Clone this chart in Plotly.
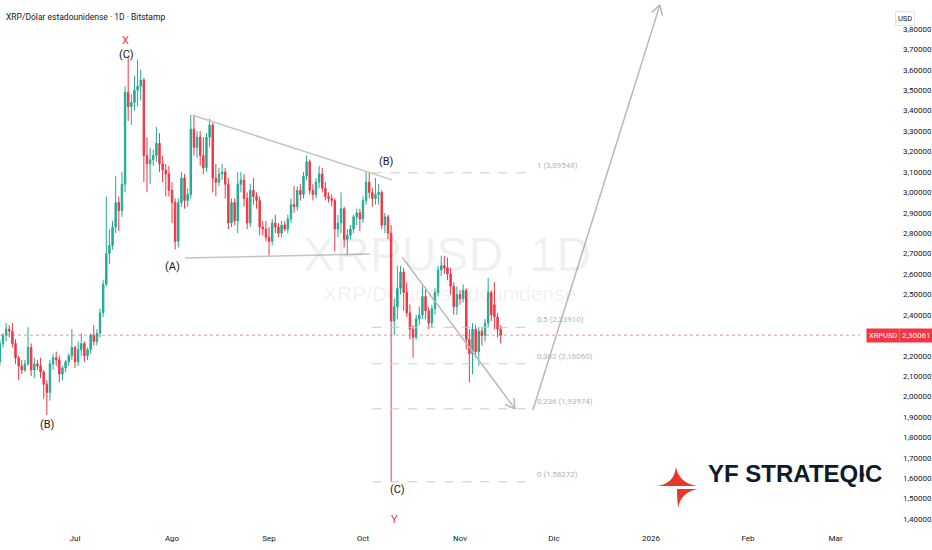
import math
import pandas as pd
import plotly.graph_objects as go

# Velas diarias XRP/USD (Bitstamp): (open, high, low, close)
jun = [
    (2.17, 2.28, 2.15, 2.26), (2.26, 2.31, 2.24, 2.30), (2.30, 2.36, 2.27, 2.33),
    (2.33, 2.35, 2.29, 2.32), (2.32, 2.36, 2.24, 2.26), (2.26, 2.28, 2.16, 2.19),
    (2.19, 2.20, 2.08, 2.15), (2.15, 2.18, 2.11, 2.13), (2.13, 2.18, 2.12, 2.16),
    (2.16, 2.34, 2.15, 2.24), (2.24, 2.26, 2.10, 2.13), (2.13, 2.19, 2.09, 2.16),
    (2.16, 2.18, 2.13, 2.15), (2.15, 2.19, 2.09, 2.12), (2.12, 2.13, 1.99, 2.06),
    (2.06, 2.08, 1.91, 2.02), (2.02, 2.18, 1.98, 2.16), (2.16, 2.21, 2.13, 2.19),
    (2.19, 2.22, 2.15, 2.18), (2.18, 2.20, 2.07, 2.11), (2.11, 2.15, 2.08, 2.14),
    (2.14, 2.18, 2.12, 2.17), (2.17, 2.21, 2.15, 2.20), (2.20, 2.33, 2.18, 2.24),
]
jul = [
    (2.24, 2.25, 2.14, 2.17), (2.17, 2.27, 2.15, 2.23), (2.23, 2.31, 2.20, 2.26),
    (2.26, 2.27, 2.17, 2.20), (2.20, 2.24, 2.18, 2.23), (2.23, 2.31, 2.21, 2.30),
    (2.30, 2.35, 2.25, 2.27), (2.27, 2.33, 2.25, 2.31), (2.31, 2.43, 2.29, 2.41),
    (2.41, 2.57, 2.39, 2.55), (2.55, 2.98, 2.54, 2.70), (2.70, 2.82, 2.65, 2.74),
    (2.74, 2.86, 2.72, 2.83), (2.83, 3.08, 2.80, 2.95), (2.95, 2.98, 2.81, 2.91),
    (2.91, 3.10, 2.88, 3.04), (3.04, 3.52, 3.00, 3.49), (3.49, 3.66, 3.35, 3.42),
    (3.42, 3.48, 3.33, 3.44), (3.44, 3.57, 3.40, 3.50), (3.50, 3.65, 3.42, 3.52),
    (3.52, 3.60, 3.45, 3.55), (3.55, 3.56, 3.05, 3.18), (3.18, 3.27, 3.00, 3.14),
    (3.14, 3.22, 3.04, 3.16), (3.16, 3.21, 3.13, 3.18), (3.18, 3.32, 3.15, 3.24),
    (3.24, 3.29, 3.10, 3.14), (3.14, 3.18, 3.05, 3.11), (3.11, 3.14, 2.98, 3.09),
    (3.09, 3.13, 2.98, 3.01),
]
aug = [
    (3.01, 3.05, 2.85, 2.95), (2.95, 2.97, 2.72, 2.76), (2.76, 2.97, 2.73, 2.95),
    (2.95, 3.10, 2.93, 3.07), (3.07, 3.09, 2.92, 2.96), (2.96, 3.02, 2.93, 2.99),
    (2.99, 3.38, 2.97, 3.31), (3.31, 3.38, 3.18, 3.22), (3.22, 3.30, 3.17, 3.27),
    (3.27, 3.30, 3.13, 3.18), (3.18, 3.27, 3.09, 3.12), (3.12, 3.29, 3.10, 3.27),
    (3.27, 3.36, 3.22, 3.33), (3.33, 3.34, 3.00, 3.07), (3.07, 3.14, 2.98, 3.05),
    (3.05, 3.12, 3.03, 3.09), (3.09, 3.14, 3.06, 3.10), (3.10, 3.12, 2.97, 3.04),
    (3.04, 3.07, 2.82, 2.85), (2.85, 2.97, 2.83, 2.95), (2.95, 2.97, 2.84, 2.86),
    (2.86, 3.10, 2.80, 3.04), (3.04, 3.10, 3.00, 3.06), (3.06, 3.09, 2.93, 2.97),
    (2.97, 3.00, 2.82, 2.85), (2.85, 3.04, 2.83, 3.01), (3.01, 3.07, 2.94, 2.98),
    (2.98, 3.00, 2.92, 2.96), (2.96, 2.98, 2.79, 2.83), (2.83, 2.86, 2.79, 2.82),
    (2.82, 2.86, 2.76, 2.78),
]
sep = [
    (2.78, 2.83, 2.69, 2.76), (2.76, 2.87, 2.74, 2.85), (2.85, 2.89, 2.80, 2.83),
    (2.83, 2.85, 2.78, 2.80), (2.80, 2.86, 2.78, 2.84), (2.84, 2.86, 2.81, 2.82),
    (2.82, 2.89, 2.80, 2.87), (2.87, 2.97, 2.85, 2.94), (2.94, 3.03, 2.90, 2.93),
    (2.93, 3.03, 2.91, 3.01), (3.01, 3.04, 2.96, 2.99), (2.99, 3.10, 2.97, 3.08),
    (3.08, 3.18, 3.06, 3.15), (3.15, 3.16, 2.99, 3.01), (3.01, 3.04, 2.96, 2.99),
    (2.99, 3.07, 2.97, 3.05), (3.05, 3.13, 3.02, 3.09), (3.09, 3.12, 3.00, 3.02),
    (3.02, 3.05, 2.96, 2.98), (2.98, 3.00, 2.95, 2.97), (2.97, 2.99, 2.93, 2.96),
    (2.96, 2.97, 2.71, 2.82), (2.82, 2.89, 2.78, 2.85), (2.85, 3.00, 2.80, 2.92),
    (2.92, 2.93, 2.73, 2.77), (2.77, 2.82, 2.69, 2.79), (2.79, 2.84, 2.77, 2.82),
    (2.82, 2.89, 2.80, 2.88), (2.88, 2.92, 2.84, 2.90), (2.90, 2.92, 2.81, 2.87),
]
oct_ = [
    (2.87, 2.98, 2.85, 2.96), (2.96, 3.10, 2.94, 3.05), (3.05, 3.10, 2.97, 3.00),
    (3.00, 3.02, 2.93, 2.97), (2.97, 3.07, 2.94, 2.99), (2.99, 3.04, 2.94, 3.00),
    (3.00, 3.01, 2.82, 2.84), (2.84, 2.90, 2.80, 2.88), (2.88, 2.89, 2.77, 2.80),
    (2.80, 2.84, 1.58272, 2.37), (2.37, 2.48, 2.30, 2.44), (2.44, 2.64, 2.38, 2.53),
    (2.53, 2.64, 2.50, 2.61), (2.61, 2.63, 2.42, 2.51), (2.51, 2.56, 2.39, 2.41),
    (2.41, 2.45, 2.28, 2.33), (2.33, 2.35, 2.19, 2.29), (2.29, 2.40, 2.28, 2.38),
    (2.38, 2.44, 2.35, 2.40), (2.40, 2.54, 2.38, 2.49), (2.49, 2.53, 2.38, 2.42),
    (2.42, 2.44, 2.33, 2.36), (2.36, 2.45, 2.34, 2.43), (2.43, 2.53, 2.40, 2.51),
    (2.51, 2.64, 2.49, 2.62), (2.62, 2.69, 2.59, 2.64), (2.64, 2.69, 2.60, 2.63),
    (2.63, 2.68, 2.57, 2.60), (2.60, 2.63, 2.50, 2.54), (2.54, 2.56, 2.40, 2.44),
    (2.44, 2.54, 2.40, 2.50),
]
nov = [
    (2.50, 2.52, 2.45, 2.48), (2.48, 2.55, 2.46, 2.52), (2.52, 2.53, 2.23, 2.28),
    (2.28, 2.33, 2.07, 2.21), (2.21, 2.36, 2.11, 2.33), (2.33, 2.35, 2.19, 2.22),
    (2.22, 2.34, 2.15, 2.32), (2.32, 2.34, 2.25, 2.30), (2.30, 2.38, 2.27, 2.36),
    (2.36, 2.58, 2.34, 2.51), (2.51, 2.52, 2.37, 2.40), (2.45, 2.56, 2.33, 2.39),
    (2.39, 2.41, 2.29, 2.33), (2.33, 2.35, 2.26, 2.30061),
]

last_price = 2.30061

# niveles de Fibonacci dibujados
fib_ratios = ["1", "0,5", "0,382", "0,236", "0"]
fib_prices = [3.09548, 2.33910, 2.16060, 1.93974, 1.58272]

price_ticks = [3.8, 3.7, 3.6, 3.5, 3.4, 3.3, 3.2, 3.1, 3.0, 2.9, 2.8, 2.7, 2.6,
               2.5, 2.4, 2.3, 2.2, 2.1, 2.0, 1.9, 1.8, 1.7, 1.6, 1.5, 1.4]
month_ticks = ["2025-07-01", "2025-08-01", "2025-09-01", "2025-10-01", "2025-11-01",
               "2025-12-01", "2026-01-01", "2026-02-01", "2026-03-01"]
month_labels = ["Jul", "Ago", "Sep", "Oct", "Nov", "Dic", "2026", "Feb", "Mar"]

# etiquetas de ondas (texto, fecha, precio, color)
wave_labels = [
    ("X", "2025-07-17 00:00", 3.746, "#f23645"),
    ("(C)", "2025-07-17 08:00", 3.673, "#131722"),
    ("(B)", "2025-06-22 08:00", 1.861, "#131722"),
    ("(A)", "2025-08-01 00:00", 2.639, "#131722"),
    ("(B)", "2025-10-08 10:00", 3.149, "#131722"),
    ("(C)", "2025-10-12 04:00", 1.547, "#131722"),
    ("Y", "2025-10-11 04:00", 1.400, "#f23645"),
]

candles = jun + jul + aug + sep + oct_ + nov
dates = pd.date_range("2025-06-07", periods=len(candles), freq="D")
df = pd.DataFrame(candles, columns=["open", "high", "low", "close"], index=dates)

UP = "#22ab94"
DOWN = "#f23645"
GREY = "#b2b5be"
TEXT = "#131722"

PLOT_W, PLOT_H = 860, 528
X0, X1 = pd.Timestamp("2025-06-07 01:00"), pd.Timestamp("2026-03-08 19:00")
Y0, Y1 = 1.3563, 3.942


def to_px(d, p):
    x = (pd.Timestamp(d) - X0) / (X1 - X0) * PLOT_W
    y = (Y1 - p) / (Y1 - Y0) * PLOT_H
    return x, y


def from_px(x, y):
    d = X0 + (X1 - X0) * (x / PLOT_W)
    return d.strftime("%Y-%m-%d %H:%M:%S"), Y1 - y / PLOT_H * (Y1 - Y0)


def paper(x, y):
    return x / PLOT_W, 1 - y / PLOT_H


fig = go.Figure()
fig.add_trace(go.Candlestick(
    x=df.index, open=df["open"], high=df["high"], low=df["low"], close=df["close"],
    increasing=dict(line=dict(color=UP, width=1), fillcolor=UP),
    decreasing=dict(line=dict(color=DOWN, width=1), fillcolor=DOWN),
    whiskerwidth=0, hoverinfo="skip", showlegend=False,
))


def line(d0, p0, d1, p1, color=GREY, width=1.3, dash="solid"):
    fig.add_shape(type="line", xref="x", yref="y", x0=d0, y0=p0, x1=d1, y1=p1,
                  line=dict(color=color, width=width, dash=dash), layer="above")


def arrow(d0, p0, d1, p1, color="#b8b8b8"):
    line(d0, p0, d1, p1, color=color, width=1.5)
    x0, y0 = to_px(d0, p0)
    x1, y1 = to_px(d1, p1)
    ang = math.atan2(y1 - y0, x1 - x0)
    for s in (-1, 1):
        a = ang + math.pi + s * math.radians(30)
        hx, hy = x1 + 11 * math.cos(a), y1 + 11 * math.sin(a)
        hd, hp = from_px(hx, hy)
        line(hd, hp, d1, p1, color=color, width=1.5)


# triangulo
line("2025-08-08 08:00", 3.374, "2025-10-10 07:00", 3.061, color="#c4c4c4", width=1.5)
line("2025-08-05 03:00", 2.679, "2025-10-03 06:00", 2.698, color="#c4c4c4", width=1.5)

# flechas
arrow("2025-10-13 12:00", 2.683, "2025-11-18 14:00", 1.9397)
arrow("2025-11-24 07:00", 1.934, "2026-01-03 21:00", 3.918)

# fibonacci
for r, p in zip(fib_ratios, fib_prices):
    line("2025-10-04 00:00", p, "2025-11-22 10:00", p, color="#c8c8c8", width=1, dash="dash")
    fig.add_annotation(x="2025-11-25 00:00", y=p, xref="x", yref="y",
                       text=f"{r} ({p:.5f})".replace(".", ","), showarrow=False,
                       xanchor="left", yanchor="bottom", yshift=1,
                       font=dict(size=8, color=GREY, family="Roboto"))

# precio actual
fig.add_shape(type="line", xref="paper", yref="y", x0=0, x1=1, y0=last_price, y1=last_price,
              line=dict(color="rgba(242,54,69,0.55)", width=1, dash="dot"), layer="above")
px_, py_ = paper(866, 0)
fig.add_annotation(x=px_, y=last_price, xref="paper", yref="y", text="XRPUSD",
                   showarrow=False, xanchor="left", bgcolor=DOWN, borderpad=2,
                   font=dict(size=7.5, color="white", family="Roboto"))
px_, py_ = paper(899, 0)
fig.add_annotation(x=px_, y=last_price, xref="paper", yref="y", text=f"{last_price:.5f}".replace(".", ","),
                   showarrow=False, xanchor="left", bgcolor=DOWN, borderpad=2,
                   font=dict(size=8, color="white", family="Roboto"))

# etiquetas de ondas
for t, d, p, c in wave_labels:
    fig.add_annotation(x=d, y=p, xref="x", yref="y", text=t, showarrow=False,
                       font=dict(size=11, color=c, family="Roboto"))

# marca de agua
wx, wy = paper(447, 255)
fig.add_annotation(x=wx, y=wy, xref="paper", yref="paper", text="XRPUSD, 1D", showarrow=False,
                   font=dict(size=48, color="rgba(19,23,34,0.07)", family="Liberation Sans"))
wx, wy = paper(449, 293)
fig.add_annotation(x=wx, y=wy, xref="paper", yref="paper", text="XRP/Dólar estadounidense",
                   showarrow=False,
                   font=dict(size=21, color="rgba(19,23,34,0.07)", family="Liberation Sans"))

# titulo
tx, ty = paper(4, 10)
fig.add_annotation(x=tx, y=ty, xref="paper", yref="paper",
                   text="XRP/Dólar estadounidense · 1D · Bitstamp", showarrow=False,
                   xanchor="left", font=dict(size=8.5, color=TEXT, family="Roboto"))

# caja USD
ux, uy = paper(915, 11)
fig.add_annotation(x=ux, y=uy, xref="paper", yref="paper", text="USD", showarrow=False,
                   bordercolor="#e0e3eb", borderwidth=1, borderpad=2,
                   font=dict(size=7.5, color=TEXT, family="Roboto"))


# logo
def path(points):
    out = []
    for cmd, pts in points:
        coords = " ".join(f"{paper(x, y)[0]:.5f},{paper(x, y)[1]:.5f}" for x, y in pts)
        out.append(f"{cmd} {coords}")
    return " ".join(out) + " Z"


LOGO_RED = "#e8372c"
fig.add_shape(type="path", xref="paper", yref="paper", fillcolor=LOGO_RED, line=dict(width=0),
              path=path([("M", [(676, 467)]), ("Q", [(674, 484), (657, 486)]),
                         ("L", [(697, 486)]), ("Q", [(679, 483), (676, 467)])]))
fig.add_shape(type="path", xref="paper", yref="paper", fillcolor=LOGO_RED, line=dict(width=0),
              path=path([("M", [(677, 489)]), ("L", [(698, 489)]),
                         ("Q", [(681, 492), (678, 508)]), ("Q", [(677, 497), (677, 489)])]))
dx0, dy0 = paper(859.5, 472.5)
dx1, dy1 = paper(864.5, 477.5)
fig.add_shape(type="circle", xref="paper", yref="paper", x0=dx0, y0=dy0, x1=dx1, y1=dy1,
              fillcolor=LOGO_RED, line=dict(width=0))
lx, ly = paper(706, 489)
fig.add_annotation(x=lx, y=ly, xref="paper", yref="paper", text="<b>YF STRATEQIC</b>",
                   showarrow=False, xanchor="left",
                   font=dict(size=24, color="#0d1b2a", family="Liberation Sans"))

fig.update_layout(
    width=932, height=550, autosize=False,
    margin=dict(l=0, r=932 - PLOT_W, t=0, b=550 - PLOT_H),
    paper_bgcolor="white", plot_bgcolor="white",
    separators=",.",
    showlegend=False,
    boxgap=0.35,
    hovermode=False,
    xaxis=dict(
        type="date", range=[X0, X1], rangeslider=dict(visible=False),
        tickvals=month_ticks, ticktext=month_labels, showgrid=False, zeroline=False,
        showline=False, ticks="", tickfont=dict(size=8, color=TEXT, family="Roboto"),
        ticklabelstandoff=4,
    ),
    yaxis=dict(
        side="right", range=[Y0, Y1], tickvals=price_ticks, tickformat=".5f",
        showgrid=False, zeroline=False, showline=False, ticks="",
        tickfont=dict(size=8, color=TEXT, family="Roboto"), ticklabelstandoff=42,
    ),
)

# la pagina no debe tener margen para que el grafico quede en (0, 0)
fig.write_html("out.html", config={"displayModeBar": False},
               post_script="document.body.style.margin='0';")
